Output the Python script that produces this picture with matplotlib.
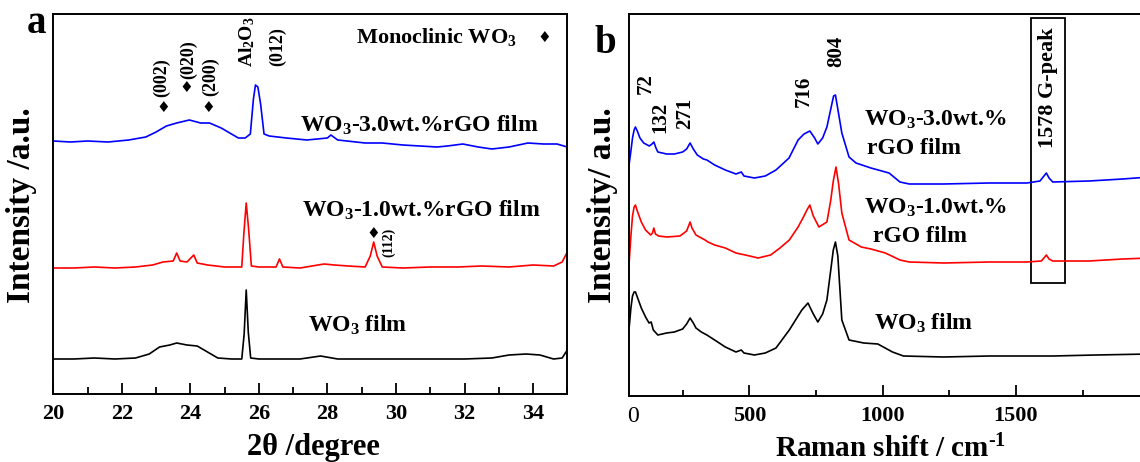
import matplotlib
matplotlib.use('Agg')
import matplotlib.pyplot as plt
from matplotlib.patches import Rectangle
from matplotlib.ticker import MultipleLocator, FixedLocator

# ---------------- data ----------------
# Panel a: XRD, 2theta (degree) vs intensity (a.u., curves offset)
two_theta_30 = [20.0, 20.5, 21.0, 21.6, 22.2, 22.7, 23.0, 23.3, 23.6, 23.97,
                24.3, 24.56, 24.9, 25.2, 25.4, 25.6, 25.75, 25.84, 25.9, 25.97,
                26.05, 26.15, 26.3, 26.8, 27.4, 28.0, 28.1, 28.3, 29.1, 29.6,
                30.2, 30.7, 31.2, 31.5, 31.95, 32.4, 32.8, 33.3, 33.85, 34.3,
                34.7, 35.0]
xrd_30 = [253, 252, 253, 252, 254, 257, 262, 268, 271, 274,
          271, 271, 266, 260, 256, 256, 260, 295, 309, 307,
          290, 260, 258, 256, 254, 256, 259, 254, 251, 251,
          249, 248, 247, 248, 250, 247, 245, 247, 251, 250,
          250, 247]

two_theta_10 = [20.0, 20.6, 21.2, 21.8, 22.4, 22.9, 23.2, 23.5, 23.6, 23.7,
                23.9, 24.1, 24.2, 24.5, 25.0, 25.5, 25.56, 25.63, 25.7, 25.78,
                26.0, 26.5, 26.6, 26.7, 27.2, 27.9, 28.2, 28.6, 29.1, 29.25,
                29.35, 29.45, 29.6, 30.2, 31.0, 31.8, 32.5, 33.3, 34.0, 34.6,
                34.85, 35.0]
xrd_10 = [126, 126, 127, 126, 127, 129, 132, 133, 141, 133,
          132, 139, 131, 129, 127, 127, 160, 191, 165, 128,
          127, 127, 135, 127, 126, 130, 129, 128, 127, 138,
          152, 138, 127, 126, 127, 127, 128, 127, 129, 128,
          132, 142]

two_theta_0 = [20.0, 20.6, 21.2, 21.8, 22.4, 22.8, 23.1, 23.4, 23.6, 23.9,
               24.2, 24.5, 24.8, 25.2, 25.5, 25.57, 25.63, 25.69, 25.76, 26.0,
               26.6, 27.2, 27.8, 28.3, 29.0, 30.0, 31.0, 32.0, 32.8, 33.3,
               33.8, 34.2, 34.6, 34.85, 35.0]
xrd_0 = [35, 35, 36, 35, 36, 40, 47, 49, 51, 49,
         48, 42, 36, 35, 35, 60, 104, 62, 36, 35,
         35, 35, 38, 35, 35, 35, 35, 35, 36, 39,
         40, 39, 35, 36, 44]

# Panel b: Raman shift (cm-1) vs intensity (a.u., curves offset)
raman_30 = [50, 56, 62, 68, 73, 80, 90, 104, 125, 135,
            142, 150, 157, 190, 219, 250, 265, 278, 290, 305,
            328, 341, 370, 410, 450, 470, 480, 519, 560, 600,
            649, 683, 705, 727, 745, 757, 775, 791, 808, 816,
            823, 830, 847, 874, 900, 956, 1024, 1065, 1100, 1228,
            1400, 1541, 1590, 1605, 1614, 1624, 1638, 1774, 1900, 2000]
int_30 = [233, 245, 258, 266, 269, 265, 258, 253, 250, 252,
          254, 248, 244, 242, 242, 244, 247, 253, 247, 241,
          237, 236, 231, 226, 222, 224, 220, 218, 220, 226,
          238, 256, 262, 265, 258, 252, 258, 269, 290, 300,
          301, 290, 263, 239, 233, 228, 223, 214, 212, 212,
          213, 213, 215, 220, 223, 218, 214, 215, 217, 219]

raman_10 = [50, 56, 62, 68, 73, 80, 95, 111, 130, 137,
            142, 148, 160, 191, 240, 265, 278, 285, 300, 320,
            334, 345, 370, 410, 450, 485, 533, 580, 615, 650,
            683, 705, 716, 727, 740, 761, 791, 805, 815, 825,
            835, 847, 874, 920, 956, 1010, 1065, 1100, 1228, 1400,
            1541, 1595, 1605, 1614, 1624, 1638, 1774, 1900, 2000]
int_10 = [136, 160, 180, 189, 191, 185, 174, 166, 161, 163,
          168, 162, 160, 159, 160, 165, 174, 168, 161, 158,
          156, 154, 151, 148, 143, 141, 138, 141, 148, 156,
          169, 180, 186, 191, 180, 169, 174, 195, 215, 229,
          212, 183, 156, 149, 147, 143, 136, 134, 133, 134,
          134, 135, 138, 141, 137, 135, 135, 137, 138]

raman_0 = [50, 56, 62, 68, 73, 80, 95, 111, 124, 132,
           140, 157, 190, 219, 250, 265, 278, 290, 300, 320,
           341, 370, 410, 450, 470, 480, 519, 560, 600, 650,
           697, 720, 740, 757, 775, 791, 805, 815, 823, 832,
           847, 874, 929, 982, 1037, 1078, 1228, 1400, 1638, 1800,
           2000]
int_0 = [70, 88, 100, 104, 104, 99, 88, 79, 73, 74,
         66, 61, 63, 64, 67, 72, 78, 73, 68, 64,
         61, 56, 49, 44, 46, 43, 41, 43, 48, 66,
         86, 93, 82, 74, 82, 96, 125, 146, 154, 140,
         76, 56, 53, 52, 44, 40, 39, 40, 40, 41,
         42]

xrd_ticks = [20, 22, 24, 26, 28, 30, 32, 34]
raman_ticks = [500, 1000, 1500]
raman_minor = [250, 750, 1250, 1750]
raman_peaks = ["72", "132", "271", "716", "804"]

# ---------------- style ----------------
plt.rcParams['font.family'] = ['Liberation Serif', 'DejaVu Sans']
plt.rcParams['font.weight'] = 'bold'
plt.rcParams['mathtext.fontset'] = 'custom'
plt.rcParams['mathtext.rm'] = 'Liberation Serif:bold'
plt.rcParams['mathtext.it'] = 'Liberation Serif:italic:bold'
plt.rcParams['mathtext.bf'] = 'Liberation Serif:bold'

W, H = 1140, 462
fig = plt.figure(figsize=(W / 100, H / 100), dpi=100)


def px_axes(l, t, r, b):
    return fig.add_axes([l / W, 1 - b / H, (r - l) / W, (b - t) / H])


axa = px_axes(53.3, 14, 567.3, 394)
axb = px_axes(629.3, 14, 1149.3, 396)

BLUE, RED, BLACK = '#0000ff', '#ff0000', '#000000'
LW = 1.2
DIA = dict(family=['DejaVu Sans'], fontsize=11, ha='center', va='center')

# ---------------- panel a ----------------
axa.plot(two_theta_30, xrd_30, color=BLUE, lw=LW)
axa.plot(two_theta_10, xrd_10, color=RED, lw=LW)
axa.plot(two_theta_0, xrd_0, color=BLACK, lw=LW)
axa.set_xlim(20, 35)
axa.set_ylim(0, 380)
axa.set_yticks([])
axa.xaxis.set_major_locator(FixedLocator(xrd_ticks))
axa.xaxis.set_minor_locator(MultipleLocator(1))
axa.tick_params(axis='x', which='major', direction='in', length=8, width=1.3,
                labelsize=16, pad=7)
axa.tick_params(axis='x', which='minor', direction='in', length=5, width=1.3)
for lab in axa.get_xticklabels():
    lab.set_fontweight('bold')
for s in axa.spines.values():
    s.set_linewidth(1.4)

axa.text(27.6, -53, '2\u03b8 /degree', fontsize=22, ha='center', va='center', clip_on=False)

axa.text(28.84, 357, r'Monoclinic WO$_3$', fontsize=16, ha='left', va='center')
axa.text(34.32, 357, '\u2666', **DIA)
axa.text(27.2, 269, r'WO$_3$-3.0wt.%rGO film', fontsize=17, ha='left', va='center')
axa.text(27.25, 184, r'WO$_3$-1.0wt.%rGO film', fontsize=17, ha='left', va='center')
axa.text(27.43, 69, r'WO$_3$ film', fontsize=17, ha='left', va='center')

axa.text(23.22, 286, '\u2666', **DIA)
axa.text(23.89, 306, '\u2666', **DIA)
axa.text(24.51, 287, '\u2666', **DIA)
axa.text(23.17, 316, '(002)', rotation=90, fontsize=13, ha='center', va='center')
axa.text(23.96, 334, '(020)', rotation=90, fontsize=13, ha='center', va='center')
axa.text(24.6, 317, '(200)', rotation=90, fontsize=13, ha='center', va='center')
axa.text(25.65, 352, r'Al$_2$O$_3$', rotation=90, fontsize=14, ha='center', va='center')
axa.text(26.56, 347, '(012)', rotation=90, fontsize=13, ha='center', va='center')
axa.text(29.33, 161, '\u2666', **DIA)
axa.text(29.8, 152, '(112)', rotation=90, fontsize=10, ha='center', va='center')

fig.text(36 / W, 1 - 33 / H, 'a', fontsize=28, ha='center', va='baseline')

# ---------------- panel b ----------------
axb.plot(raman_30, int_30, color=BLUE, lw=LW)
axb.plot(raman_10, int_10, color=RED, lw=LW)
axb.plot(raman_0, int_0, color=BLACK, lw=LW)
axb.set_xlim(50, 2000)
axb.set_ylim(0, 382)
axb.set_yticks([])
axb.xaxis.set_major_locator(FixedLocator(raman_ticks))
axb.xaxis.set_minor_locator(FixedLocator(raman_minor))
axb.tick_params(axis='x', which='major', direction='in', length=8, width=1.3,
                labelsize=16, pad=7)
axb.tick_params(axis='x', which='minor', direction='in', length=4, width=1.3)
for lab in axb.get_xticklabels():
    lab.set_fontweight('bold')
for s in axb.spines.values():
    s.set_linewidth(1.4)
axb.text(64, -21, '0', fontsize=17, fontweight='normal', ha='center', va='center', clip_on=False)

axb.text(1029, -53, r'Raman shift / cm$^{\text{-1}}$', fontsize=21, ha='center',
         va='center', clip_on=False)

axb.text(111, 312, raman_peaks[0], rotation=90, fontsize=15, ha='center', va='center')
axb.text(168, 279, raman_peaks[1], rotation=90, fontsize=15, ha='center', va='center')
axb.text(258, 283, raman_peaks[2], rotation=90, fontsize=15, ha='center', va='center')
axb.text(703, 305, raman_peaks[3], rotation=90, fontsize=15, ha='center', va='center')
axb.text(825, 345, raman_peaks[4], rotation=90, fontsize=15, ha='center', va='center')

axb.text(930, 276, r'WO$_3$-3.0wt.%', fontsize=17, ha='left', va='center')
axb.text(941, 248, 'rGO film', fontsize=17, ha='left', va='center')
axb.text(930, 188, r'WO$_3$-1.0wt.%', fontsize=17, ha='left', va='center')
axb.text(964, 159, 'rGO film', fontsize=17, ha='left', va='center')
axb.text(967, 73, r'WO$_3$ film', fontsize=17, ha='left', va='center')

axb.add_patch(Rectangle((1556, 113), 128, 265, fill=False, lw=1.3, edgecolor='black'))
axb.text(1620, 308, '1578 G-peak', rotation=90, fontsize=16, ha='center', va='center')

fig.text(605 / W, 1 - 53 / H, 'b', fontsize=28, ha='center', va='baseline')

fig.text(22 / W, 1 - 205 / H, 'Intensity /a.u.', rotation=90, fontsize=24,
         ha='center', va='center')
fig.text(602 / W, 1 - 205 / H, 'Intensity/ a.u.', rotation=90, fontsize=24,
         ha='center', va='center')

fig.savefig('out.png', dpi=100)
